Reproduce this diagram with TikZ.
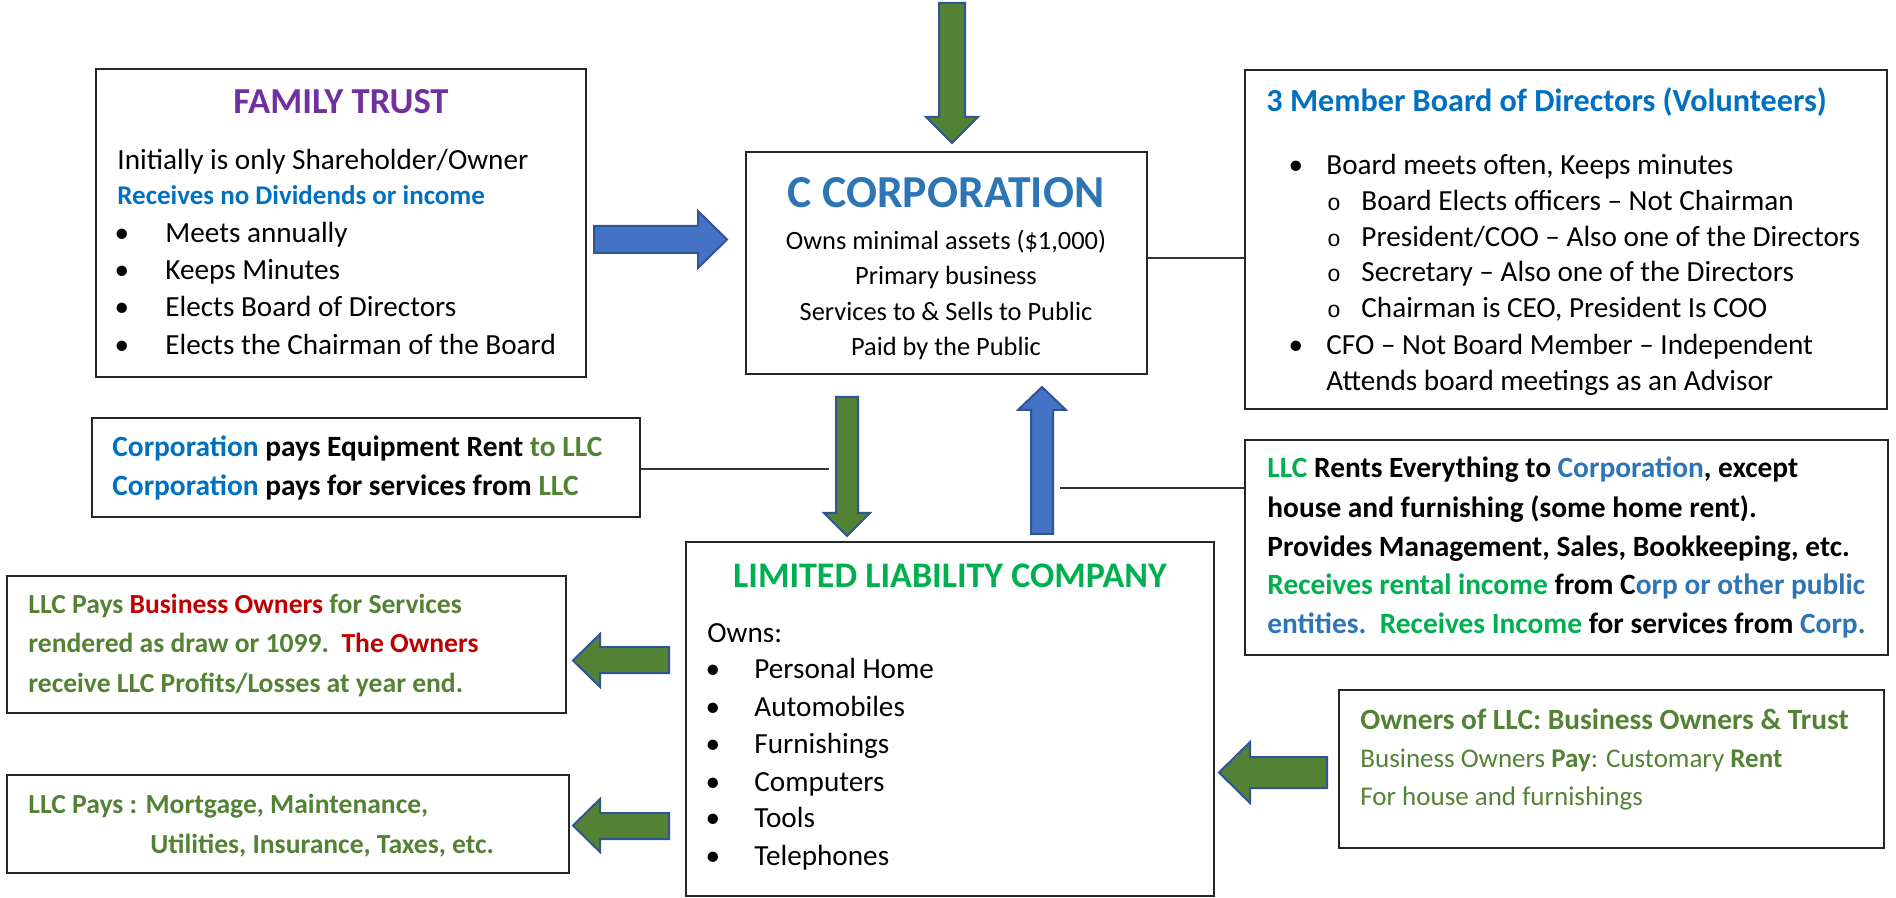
\documentclass[tikz,border=0pt]{standalone}
\usepackage{fontspec}
\setmainfont{Carlito}
\newfontfamily\monof{Liberation Mono}
\usetikzlibrary{fit}
\definecolor{ftpurple}{HTML}{7030A0}
\definecolor{corpblue}{HTML}{2E75B6}
\definecolor{brightblue}{HTML}{0070C0}
\definecolor{dkgreen}{HTML}{548235}
\definecolor{brgreen}{HTML}{00B050}
\definecolor{dkred}{HTML}{C00000}
\definecolor{arrblue}{HTML}{4472C4}
\definecolor{arredge}{HTML}{2F5597}
\begin{document}
\begin{tikzpicture}[x=0.5pt,y=-0.5pt,
  box/.style={draw=black!85, line width=1pt, inner sep=0pt},
  txt/.style={anchor=base west, inner sep=0pt, font=\fontsize{14.6}{17}\selectfont},
  ctxt/.style={anchor=base, inner sep=0pt, font=\fontsize{13.2}{16}\selectfont},
  btxt/.style={anchor=base west, inner sep=0pt, font=\bfseries\fontsize{14.7}{17}\selectfont},
  bsmall/.style={anchor=base west, inner sep=0pt, font=\bfseries\fontsize{13.8}{16}\selectfont},
  osmall/.style={anchor=base west, inner sep=0pt, font=\fontsize{13.5}{16}\selectfont},
  bul/.style={anchor=base, inner sep=0pt, font=\fontsize{14.6}{17}\selectfont},
  sbul/.style={anchor=base, inner sep=0pt, font=\monof\fontsize{11.5}{14}\selectfont},
  gblock/.style={fill=dkgreen, draw=arredge, line width=1pt, line join=miter},
  bblock/.style={fill=arrblue, draw=arredge, line width=1pt, line join=miter},
  link/.style={draw=black!80, line width=0.8pt}]
\useasboundingbox (0,0) rectangle (1896,898);

% ---------- boxes ----------
\node[box, fit={(96,69) (586,377)}] (ft) {};
\node[box, fit={(746,152) (1147,374)}] (cc) {};
\node[box, fit={(1245,70) (1887,409)}] (bd) {};
\node[box, fit={(92,418) (640,517)}] (cp) {};
\node[box, fit={(7,576) (566,713)}] (lp) {};
\node[box, fit={(7,775) (569,873)}] (mg) {};
\node[box, fit={(686,542) (1214,896)}] (llc) {};
\node[box, fit={(1245,440) (1888,655)}] (lr) {};
\node[box, fit={(1339,690) (1884,848)}] (ow) {};

% ---------- family trust ----------
\node[anchor=base, inner sep=0pt, text=ftpurple, font=\bfseries\fontsize{18.3}{21}\selectfont] (ft-t) at (341,114) {FAMILY TRUST};
\node[txt] (ft-1) at (117,170) {Initially is only Shareholder/Owner};
\node[anchor=base west, inner sep=0pt, text=brightblue, font=\bfseries\fontsize{13.5}{16}\selectfont] (ft-2) at (117,205) {Receives no Dividends or income};
\node[bul] (ft-b1) at (122,243) {•};
\node[txt] (ft-3) at (165,243) {Meets annually};
\node[bul] (ft-b2) at (122,280) {•};
\node[txt] (ft-4) at (165,280) {Keeps Minutes};
\node[bul] (ft-b3) at (122,317) {•};
\node[txt] (ft-5) at (165,317) {Elects Board of Directors};
\node[bul] (ft-b4) at (122,355) {•};
\node[txt] (ft-6) at (165,355) {Elects the Chairman of the Board};

% ---------- C corporation ----------
\node[anchor=base, inner sep=0pt, text=corpblue, font=\bfseries\fontsize{22.9}{27}\selectfont] (cc-t) at (946,208) {C CORPORATION};
\node[ctxt] (cc-1) at (946,250) {Owns minimal assets (\$1,000)};
\node[ctxt] (cc-2) at (946,285) {Primary business};
\node[ctxt] (cc-3) at (946,321) {Services to \& Sells to Public};
\node[ctxt] (cc-4) at (946,356) {Paid by the Public};

% ---------- board ----------
\node[anchor=base west, inner sep=0pt, text=brightblue, font=\bfseries\fontsize{16.1}{19}\selectfont] (bd-t) at (1266,112) {3 Member Board of Directors (Volunteers)};
\node[bul] (bd-b1) at (1296,175) {•};
\node[txt] (bd-1) at (1326,175) {Board meets often, Keeps minutes};
\node[sbul] (bd-s1) at (1334,211) {o};
\node[txt] (bd-2) at (1361,211) {Board Elects officers – Not Chairman};
\node[sbul] (bd-s2) at (1334,247) {o};
\node[txt] (bd-3) at (1361,247) {President/COO – Also one of the Directors};
\node[sbul] (bd-s3) at (1334,282) {o};
\node[txt] (bd-4) at (1361,282) {Secretary – Also one of the Directors};
\node[sbul] (bd-s4) at (1334,318) {o};
\node[txt] (bd-5) at (1361,318) {Chairman is CEO, President Is COO};
\node[bul] (bd-b2) at (1296,355) {•};
\node[txt] (bd-6) at (1326,355) {CFO – Not Board Member – Independent};
\node[txt] (bd-7) at (1326,391) {Attends board meetings as an Advisor};

% ---------- corporation pays ----------
\node[btxt] (cp-1) at (112,457) {\textcolor{brightblue}{Corporation} pays Equipment Rent \textcolor{dkgreen}{to LLC}};
\node[btxt] (cp-2) at (112,495) {\textcolor{brightblue}{Corporation} pays for services from \textcolor{dkgreen}{LLC}};

% ---------- LLC pays business owners ----------
\node[bsmall, text=dkgreen] (lp-1) at (28,613) {LLC Pays \textcolor{dkred}{Business Owners} for Services};
\node[bsmall, text=dkgreen] (lp-2) at (28,652) {rendered as draw or 1099.\ \ \textcolor{dkred}{The Owners}};
\node[bsmall, text=dkgreen] (lp-3) at (28,692) {receive LLC Profits/Losses at year end.};

% ---------- LLC pays mortgage ----------
\node[bsmall, text=dkgreen] (mg-1) at (28,813) {LLC Pays : Mortgage, Maintenance,};
\node[bsmall, text=dkgreen] (mg-2) at (150,853) {Utilities, Insurance, Taxes, etc.};

% ---------- LLC ----------
\node[anchor=base, inner sep=0pt, text=brgreen, font=\bfseries\fontsize{18}{21}\selectfont] (llc-t) at (950,588) {LIMITED LIABILITY COMPANY};
\node[txt] (llc-0) at (707,642) {Owns:};
\node[bul] (llc-b1) at (713,678) {•};
\node[txt] (llc-1) at (754,678) {Personal Home};
\node[bul] (llc-b2) at (713,716) {•};
\node[txt] (llc-2) at (754,716) {Automobiles};
\node[bul] (llc-b3) at (713,753) {•};
\node[txt] (llc-3) at (754,753) {Furnishings};
\node[bul] (llc-b4) at (713,791) {•};
\node[txt] (llc-4) at (754,791) {Computers};
\node[bul] (llc-b5) at (713,827) {•};
\node[txt] (llc-5) at (754,827) {Tools};
\node[bul] (llc-b6) at (713,865) {•};
\node[txt] (llc-6) at (754,865) {Telephones};

% ---------- LLC rents ----------
\node[btxt] (lr-1) at (1267,478) {\textcolor{brgreen}{LLC} Rents Everything to \textcolor{corpblue}{Corporation}, except};
\node[btxt] (lr-2) at (1267,517) {house and furnishing (some home rent).};
\node[btxt] (lr-3) at (1267,556) {Provides Management, Sales, Bookkeeping, etc.};
\node[btxt] (lr-4) at (1267,594) {\textcolor{brgreen}{Receives rental income} from C\textcolor{corpblue}{orp or other public}};
\node[btxt] (lr-5) at (1267,633) {\textcolor{corpblue}{entities.}\ \ \textcolor{brgreen}{Receives Income} for services from \textcolor{corpblue}{Corp.}};

% ---------- owners ----------
\node[btxt, text=dkgreen] (ow-1) at (1360,729) {Owners of LLC: Business Owners \& Trust};
\node[osmall, text=dkgreen] (ow-2) at (1360,767) {Business Owners \textbf{Pay}: Customary \textbf{Rent}};
\node[osmall, text=dkgreen] (ow-3) at (1360,805) {For house and furnishings};

% ---------- block arrows ----------
% top, into C corporation
\draw[gblock] (939,3) -- (965,3) -- (965,117) -- (978,117) -- (952,143) -- (926,117) -- (939,117) -- cycle;
% family trust -> C corporation
\draw[bblock] (594,226) -- (698,226) -- (698,211) -- (727,239.5) -- (698,268) -- (698,253) -- (594,253) -- cycle;
% C corporation -> LLC
\draw[gblock] (836,397) -- (858,397) -- (858,513) -- (870,513) -- (847,536) -- (824,513) -- (836,513) -- cycle;
% LLC -> C corporation
\draw[bblock] (1031,534) -- (1053,534) -- (1053,410) -- (1066,410) -- (1042,387) -- (1018,410) -- (1031,410) -- cycle;
% LLC -> business owners
\draw[gblock] (669,647) -- (600,647) -- (600,634) -- (573,660.5) -- (600,687) -- (600,673) -- (669,673) -- cycle;
% LLC -> mortgage etc.
\draw[gblock] (669,813) -- (600,813) -- (600,799) -- (573,825.5) -- (600,852) -- (600,839) -- (669,839) -- cycle;
% owners -> LLC
\draw[gblock] (1327,757) -- (1250,757) -- (1250,742) -- (1219,772.5) -- (1250,803) -- (1250,788) -- (1327,788) -- cycle;

% ---------- thin connectors ----------
\coordinate (dnL) at (829,469);
\coordinate (upR) at (1060,488);
\draw[link] (cc.east |- 0,258) -- (bd.west |- 0,258);
\draw[link] (cp.east |- dnL) -- (dnL);
\draw[link] (lr.west |- upR) -- (upR);
\end{tikzpicture}
\end{document}
